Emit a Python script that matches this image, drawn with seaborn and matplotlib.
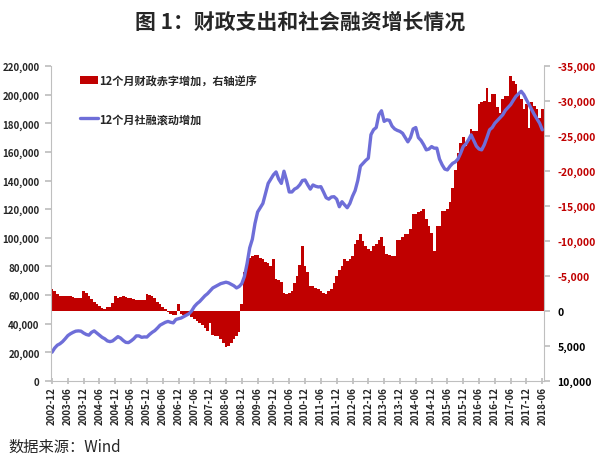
import matplotlib
matplotlib.use("Agg")
import matplotlib.pyplot as plt
import pandas as pd
import seaborn as sns

# monthly categories, 2002-12 .. 2018-06
months = pd.period_range("2002-12", "2018-06", freq="M").strftime("%Y-%m")

tick_labels = [
    "2002-12", "2003-06", "2003-12", "2004-06", "2004-12", "2005-06", "2005-12",
    "2006-06", "2006-12", "2007-06", "2007-12", "2008-06", "2008-12", "2009-06",
    "2009-12", "2010-06", "2010-12", "2011-06", "2011-12", "2012-06", "2012-12",
    "2013-06", "2013-12", "2014-06", "2014-12", "2015-06", "2015-12", "2016-06",
    "2016-12", "2017-06", "2017-12", "2018-06",
]

# 12-month rolling increase of total social financing (left axis)
tsf_12m = [
    20100, 23000, 25000, 26000, 27500, 29500, 31700, 33000, 34000, 34800,
    35000, 34800, 33500, 32500, 32000, 34000, 35000, 33500, 32000, 30500,
    29500, 28000, 27500, 28000, 29500, 31000, 30000, 28300, 27000, 26800,
    28000, 29500, 31500, 31500, 30500, 30800, 30700, 32500, 34000, 35200,
    37000, 39000, 40000, 41000, 41600, 41000, 40600, 43000, 43500, 44000,
    45000, 46000, 47000, 49000, 52000, 54000, 55500, 57500, 59500, 61000,
    63000, 65000, 66000, 67000, 68000, 68500, 69000, 68500, 67500, 66500,
    65000, 66000, 68000, 73000, 82000, 93000, 99000, 110000, 118000, 121000,
    124000, 131000, 138000, 141000, 144000, 146000, 141000, 138000, 146500, 140000,
    132000, 132000, 134000, 135000, 137000, 140000, 140400, 137000, 134000, 136900,
    136000, 135500, 135700, 132000, 128000, 127000, 128500, 128700, 127000, 121700,
    125200, 123000, 121000, 124000, 129000, 133000, 140000, 150000, 152000, 154000,
    155600, 172000, 175500, 177000, 186000, 188700, 181300, 182400, 182000, 178000,
    176000, 175000, 174300, 173000, 170000, 167000, 170000, 176000, 177000, 170000,
    168000, 165000, 161400, 162000, 163700, 162600, 162600, 155000, 151000, 148000,
    147400, 150000, 152000, 153000, 155000, 159000, 163700, 165500, 168400, 171900,
    168000, 164000, 162000, 161400, 165000, 170000, 175400, 177000, 180000, 182000,
    184000, 185900, 189000, 191000, 193000, 196000, 198800, 200500, 202300, 200000,
    196400, 193000, 189400, 186000, 183000, 180000, 175400,
]

# 12-month fiscal balance change (right axis, reversed: deficit is negative)
fiscal_12m = [
    -3200, -2900, -2400, -2200, -2100, -2200, -2100, -2100, -2000, -1900, -1900, -1900,
    -2900, -2600, -2200, -1700, -1300, -1000, -700, -400, -300, -500, -600, -1100,
    -2100, -1800, -2000, -2100, -2000, -1900, -1800, -1700, -1600, -1600, -1500, -1500,
    -2400, -2300, -2100, -1800, -1300, -1000, -600, -300, 200, 400, 600, 600,
    -1000, 500, 600, 600, 300, 900, 1200, 1400, 1700, 2000, 2400, 2900,
    1700, 3400, 3600, 3600, 4000, 4500, 5200, 5000, 4500, 4000, 3600, 3000,
    -1000, -5500, -6500, -7600, -7900, -8000, -8000, -7600, -7400, -7000, -6800, -6400,
    -7400, -4500, -4400, -4100, -2600, -2400, -2600, -2900, -4000, -5000, -6500, -9300,
    -6400, -5500, -3600, -3500, -3300, -3100, -2900, -2600, -2400, -2900, -3100, -4000,
    -5000, -5800, -6400, -7400, -7100, -7400, -7900, -9500, -10200, -11000, -10000, -9300,
    -8800, -8600, -9300, -9500, -10200, -10500, -9300, -8100, -8000, -7900, -7900, -10200,
    -10200, -10500, -11000, -11000, -11700, -13800, -13800, -14100, -14300, -14500, -13100, -12100,
    -11200, -8600, -12100, -12100, -14300, -14300, -14500, -15500, -17600, -20200, -22600, -24000,
    -24800, -23600, -24300, -26000, -25700, -25700, -29500, -29800, -30000, -31800, -29800, -31000,
    -31000, -29100, -28300, -30300, -30700, -30700, -33600, -32900, -32400, -31000, -30300, -28800,
    -29500, -26200, -29800, -29300, -28800, -27600, -28800,
]

left_ticks = list(range(0, 220001, 20000))
right_ticks = list(range(-35000, 10001, 5000))

assert len(tsf_12m) == len(months) == len(fiscal_12m), (len(tsf_12m), len(fiscal_12m), len(months))

sns.set_theme(style="white")
plt.rcParams["font.family"] = ["Noto Sans CJK SC", "DejaVu Sans"]

df = pd.DataFrame({
    "pos": range(len(months)),
    "month": months,
    "tsf": tsf_12m,
    "fiscal": fiscal_12m,
})

red = "#c00000"
blue = "#6e6ed8"
grey = "#bfbfbf"

fig = plt.figure(figsize=(6, 4.64), dpi=100)
ax = fig.add_axes([0.0845, 0.1767, 0.8215, 0.679])
ax2 = ax.twinx()

sns.barplot(data=df, x="pos", y="fiscal", ax=ax2, color=red, width=1.0,
            saturation=1, linewidth=0, errorbar=None)
sns.lineplot(data=df, x="pos", y="tsf", ax=ax, color=blue, linewidth=2.4)

# line above the bars
ax.set_zorder(ax2.get_zorder() + 1)
ax.patch.set_visible(False)

ax.set_xlim(-0.5, len(months) - 0.5)
ax.set_ylim(0, 220000)
ax2.set_ylim(10000, -35000)

ax.set_xticks(range(0, len(months), 6), labels=tick_labels, rotation=90)
ax.set_yticks(left_ticks, labels=[f"{v:,}" for v in left_ticks])
ax2.set_yticks(right_ticks, labels=[f"{v:,}" for v in right_ticks])
for lbl, v in zip(ax2.get_yticklabels(), right_ticks):
    lbl.set_color(red if v < 0 else "black")

for t in ax.get_xticklabels() + ax.get_yticklabels() + ax2.get_yticklabels():
    t.set_fontweight("bold")
ax.tick_params(axis="x", bottom=True, direction="inout", length=5, color=grey,
               labelsize=7, pad=1)
ax.tick_params(axis="y", left=True, direction="out", length=4, color=grey,
               labelsize=7, pad=4)
ax2.tick_params(axis="y", right=True, direction="out", length=4, color=grey,
                labelsize=7.5, pad=6)

ax.set_xlabel("")
ax.set_ylabel("")
ax2.set_xlabel("")
ax2.set_ylabel("")

for name in ["top", "right"]:
    ax.spines[name].set_visible(False)
for name in ["top", "left", "bottom"]:
    ax2.spines[name].set_visible(False)
for sp in [ax.spines["left"], ax.spines["bottom"], ax2.spines["right"]]:
    sp.set_color(grey)
    sp.set_linewidth(0.8)

ax.legend(handles=[ax2.patches[0], ax.lines[0]],
          labels=["12个月财政赤字增加，右轴逆序", "12个月社融滚动增加"],
          loc="upper left", bbox_to_anchor=(0.059, 0.975), frameon=False,
          prop={"size": 8, "weight": "bold"}, labelspacing=2.3,
          handlelength=1.6, handletextpad=0.15, borderpad=0, borderaxespad=0)

fig.text(0.5, 1 - 22 / 464, "图 1：财政支出和社会融资增长情况", ha="center", va="center",
         fontsize=15, fontweight="bold")
fig.text(8 / 600, 1 - 447 / 464, "数据来源：Wind", ha="left", va="center", fontsize=11)

fig.savefig("out.png", dpi=100)
